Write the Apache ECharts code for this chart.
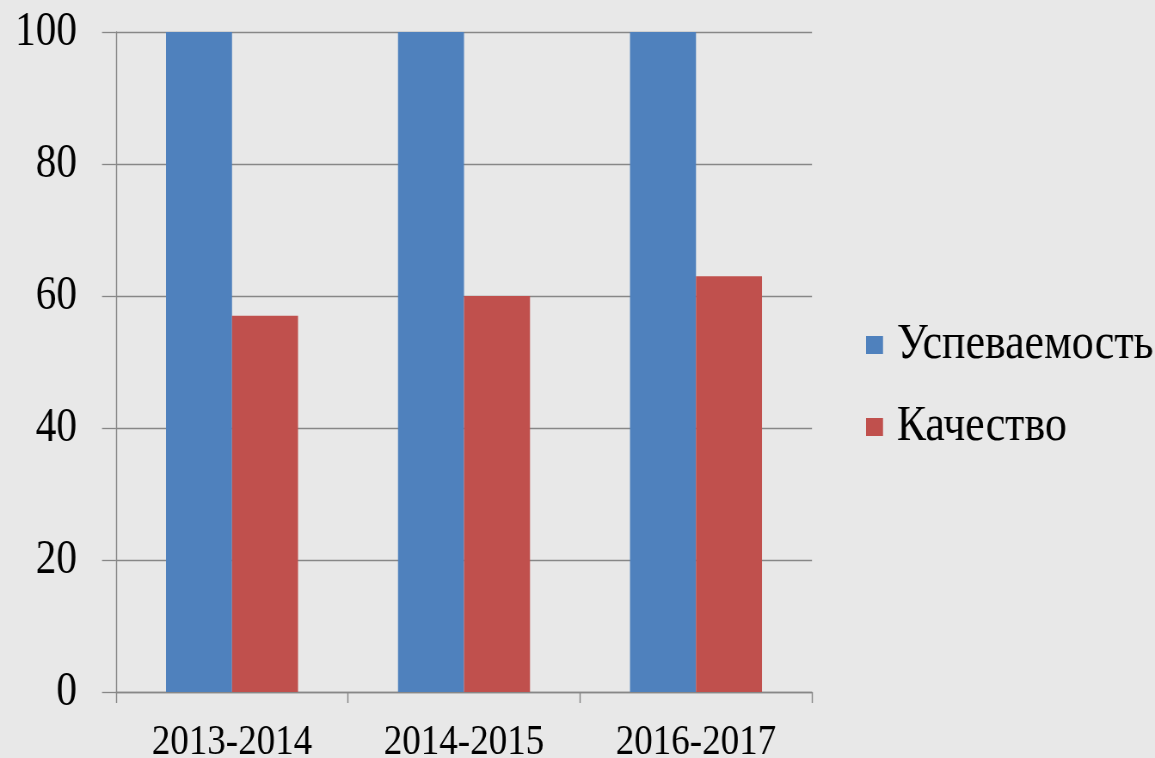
<!DOCTYPE html>
<html>
<head>
<meta charset="utf-8">
<script src="https://cdn.jsdelivr.net/npm/echarts@6/dist/echarts.min.js"></script>
<style>
  html, body { margin: 0; padding: 0; background: #e8e8e8; }
  #frame { width: 1155px; height: 758px; overflow: hidden; position: relative; }
  /* The chart is laid out wider and compressed horizontally, giving the tall, narrow serif lettering */
  #chart { position: absolute; left: 0; top: 0; width: 1155px; height: 758px; transform-origin: 0 0; }
</style>
</head>
<body>
<div id="frame"><div id="chart"></div></div>
<script>
// School years and the two indicators (percent)
const years = ['2013-2014', '2014-2015', '2016-2017'];
const uspevaemost = [100, 100, 100];
const kachestvo = [57, 60, 63];
const yTicks = { min: 0, max: 100, step: 20 };

const squeeze = 0.86;                      // horizontal compression of the whole drawing
const W = Math.round(1155 / squeeze);      // layout width before compression
const H = 758;
const hx = v => v / squeeze;               // horizontal sizes in final pixels -> layout pixels

const el = document.getElementById('chart');
el.style.width = W + 'px';
el.style.transform = 'scaleX(' + squeeze + ')';

const serif = '"Liberation Serif", "Times New Roman", serif';
const gridColor = '#878787';

const chart = echarts.init(el, null, { width: W, height: H });
chart.setOption({
  backgroundColor: '#e8e8e8',
  animation: false,
  grid: {
    left: hx(116), right: hx(343), top: 32, bottom: 66,
    containLabel: false,
    outerBoundsMode: 'none'
  },
  legend: {
    orient: 'vertical',
    left: hx(866),
    top: 315,
    padding: 0,
    itemWidth: hx(17),
    itemHeight: 18,
    itemGap: 22,
    icon: 'rect',
    textStyle: { fontFamily: serif, fontSize: 51, color: '#000', lineHeight: 51, padding: [9, 0, 0, 11] },
    data: ['Успеваемость', 'Качество']
  },
  xAxis: {
    type: 'category',
    data: years,
    axisLine: { show: true, lineStyle: { color: gridColor, width: 1.3 } },
    axisTick: { show: true, length: 11, lineStyle: { color: gridColor, width: 1.4 } },
    axisLabel: { fontFamily: serif, fontSize: 43, color: '#000', margin: 29 }
  },
  yAxis: {
    type: 'value',
    min: yTicks.min,
    max: yTicks.max,
    interval: yTicks.step,
    axisLine: { show: true, lineStyle: { color: gridColor, width: 1.4 } },
    axisTick: { show: true, length: hx(14), lineStyle: { color: gridColor, width: 1.3 } },
    splitLine: { show: true, lineStyle: { color: gridColor, width: 1.3 } },
    axisLabel: { fontFamily: serif, fontSize: 48, color: '#000', margin: hx(39) }
  },
  series: [
    {
      name: 'Успеваемость',
      type: 'bar',
      data: uspevaemost,
      barWidth: hx(66),
      barGap: '0%',
      itemStyle: { color: '#4f81bd' }
    },
    {
      name: 'Качество',
      type: 'bar',
      data: kachestvo,
      barWidth: hx(66),
      barGap: '0%',
      itemStyle: { color: '#c0504d' }
    }
  ]
});
</script>
</body>
</html>
